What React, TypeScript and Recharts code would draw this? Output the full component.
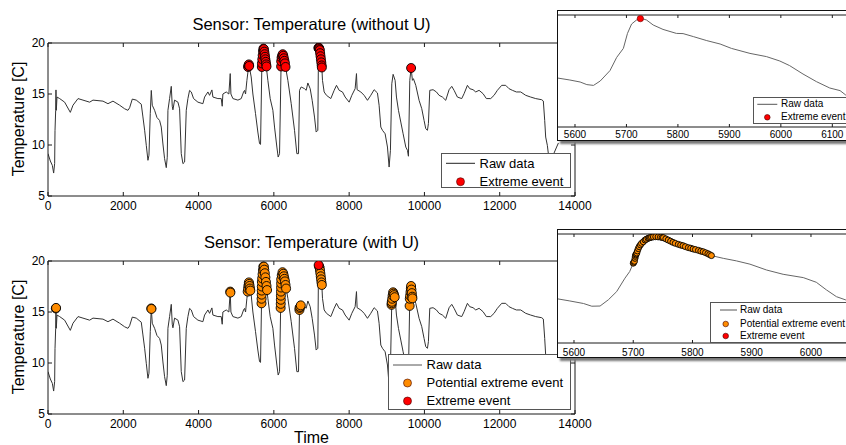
import React from "react";
import { ComposedChart, Line, Scatter, XAxis, YAxis } from "recharts";

const FONT = "'Liberation Sans', Arial, Helvetica, sans-serif";
const INK = "#1a1a1a";
const RED = "#ff0000";
const ORANGE = "#ff8c00";

const X_TICKS = [0, 2000, 4000, 6000, 8000, 10000, 12000, 14000];
const Y_TICKS = [5, 10, 15, 20];
const ZOOM_A_TICKS = [5600, 5700, 5800, 5900, 6000, 6100];
const ZOOM_B_TICKS = [5600, 5700, 5800, 5900, 6000];

// raw sensor trace: [time, temperature]
const RAW = [
  [0, 9.15], [62, 8.43], [115, 8.0], [150, 7.25], [177, 8.2], [186, 11.4], [204, 13.4], [212, 15.4],
  [221, 13.4], [239, 14.7], [310, 14.55], [442, 14.2], [593, 13.2], [664, 13.9], [797, 14.55],
  [929, 14.4], [1106, 14.2], [1195, 14.4], [1460, 14.3], [1593, 14.05], [1726, 14.3], [1903, 13.9],
  [2036, 13.55], [2124, 13.4], [2168, 13.65], [2239, 14.5], [2345, 14.4], [2478, 14.0], [2522, 12.75],
  [2567, 11.45], [2611, 9.97], [2655, 8.5], [2682, 9.0], [2717, 13.1], [2744, 15.35], [2770, 13.9],
  [2832, 13.4], [2894, 12.7], [2965, 12.4], [3009, 11.76], [3053, 10.1], [3097, 8.66], [3142, 7.78],
  [3168, 8.8], [3186, 13.4], [3230, 14.55], [3275, 15.75], [3301, 13.8], [3319, 13.45], [3363, 14.4],
  [3452, 14.2], [3496, 13.55], [3540, 9.15], [3585, 8.17], [3629, 8.33], [3673, 13.4], [3717, 14.55],
  [3761, 15.35], [3806, 15.2], [3867, 14.55], [3983, 14.2], [4115, 14.05], [4160, 14.7], [4248, 15.2],
  [4292, 14.87], [4354, 15.4], [4381, 14.7], [4513, 14.55], [4602, 14.55], [4628, 13.8], [4646, 15.0],
  [4735, 15.2], [4805, 15.0], [4841, 17.0], [4859, 15.0], [4912, 14.55], [5045, 14.4], [5133, 14.55],
  [5195, 15.2], [5221, 15.35], [5248, 15.0], [5283, 16.3], [5336, 17.9], [5398, 16.67], [5443, 15.0],
  [5513, 13.07], [5575, 11.27], [5620, 10.13], [5646, 10.06], [5682, 17.97], [5726, 19.6], [5779, 18.3],
  [5841, 16.34], [5903, 14.54], [5974, 13.4], [6018, 11.76], [6080, 9.8], [6115, 8.82], [6151, 9.15],
  [6195, 18.46], [6239, 18.95], [6310, 17.65], [6372, 16.34], [6461, 14.05], [6549, 11.44], [6611, 9.15],
  [6655, 9.15], [6682, 15.36], [6726, 15.69], [6815, 15.52], [6859, 15.36], [6903, 16.08], [6965, 15.52],
  [7018, 14.38], [7080, 12.74], [7124, 11.27], [7168, 11.44], [7186, 19.67], [7221, 19.3], [7274, 17.65],
  [7292, 16.34], [7336, 15.2], [7398, 14.87], [7513, 14.55], [7602, 15.36], [7664, 15.85], [7735, 15.36],
  [7823, 15.2], [7894, 14.7], [8000, 14.2], [8071, 14.87], [8159, 15.52], [8195, 17.0], [8212, 15.42],
  [8310, 15.2], [8398, 14.87], [8487, 14.38], [8575, 14.87], [8664, 15.42], [8752, 15.1], [8796, 13.9],
  [8841, 11.76], [8885, 11.44], [8956, 11.1], [9018, 9.8], [9062, 7.84], [9097, 9.48], [9133, 16.0],
  [9168, 16.93], [9221, 16.34], [9257, 14.7], [9310, 13.4], [9372, 12.25], [9434, 11.1], [9505, 9.8],
  [9549, 9.48], [9575, 8.9], [9611, 16.34], [9646, 17.55], [9681, 16.34], [9708, 16.5], [9770, 15.85],
  [9858, 14.38], [9929, 13.56], [9991, 12.4], [10035, 11.6], [10080, 11.44], [10106, 12.1], [10142, 15.36],
  [10230, 15.42], [10319, 15.2], [10389, 14.87], [10478, 14.7], [10566, 14.38], [10655, 15.42],
  [10726, 15.75], [10788, 15.36], [10876, 14.7], [10991, 14.55], [11053, 15.03], [11142, 15.85],
  [11204, 15.52], [11292, 15.42], [11363, 15.2], [11452, 15.36], [11558, 15.03], [11646, 14.55],
  [11761, 14.55], [11850, 14.87], [11938, 15.36], [12053, 15.85], [12159, 15.85], [12248, 15.52],
  [12336, 15.36], [12442, 15.2], [12558, 15.2], [12690, 14.87], [12823, 14.7], [12956, 14.55],
  [13115, 14.44], [13159, 14.31], [13195, 12.42], [13221, 10.78], [13265, 9.97], [13292, 9.15],
  [13380, 9.1], [13430, 9.1], [13512, 9.8], [13560, 10.2],
];

// top panel: extreme events without uncertainty
const EXTREME_NO_U = [
  [5315, 17.65], [5325, 17.8], [5336, 17.9], [5345, 17.75],
  [5681, 17.65], [5684, 18.0], [5693, 18.4], [5703, 18.8], [5712, 19.2], [5722, 19.45], [5735, 19.4],
  [5745, 19.15], [5755, 18.9], [5765, 18.65], [5775, 18.4], [5785, 18.15], [5795, 17.9], [5805, 17.7],
  [6193, 17.7], [6195, 18.2], [6205, 18.55], [6220, 18.75], [6235, 18.9], [6250, 18.75], [6265, 18.5],
  [6280, 18.25], [6295, 18.0], [6310, 17.65],
  [7185, 19.5], [7190, 19.55], [7200, 19.5], [7210, 19.4], [7220, 19.3], [7230, 19.0], [7240, 18.7],
  [7250, 18.4], [7260, 18.1], [7270, 17.8], [7275, 17.6],
  [9646, 17.55],
];

// bottom panel: potential and confirmed extreme events with uncertainty
const POTENTIAL_U = [
  [208, 15.35], [214, 15.4],
  [2744, 15.35], [2748, 15.3],
  [4841, 17.0], [4845, 16.9],
  [5305, 17.0], [5315, 17.3], [5325, 17.6], [5336, 17.9], [5345, 17.75], [5355, 17.55], [5365, 17.3], [5375, 17.1],
  [5672, 15.85], [5674, 16.3], [5676, 16.7], [5678, 17.1], [5680, 17.5], [5682, 17.95], [5690, 18.3],
  [5700, 18.7], [5710, 19.1], [5720, 19.45], [5735, 19.45], [5745, 19.15], [5760, 18.8], [5775, 18.4],
  [5790, 17.95], [5805, 17.55], [5820, 17.15],
  [6180, 15.4], [6183, 15.8], [6185, 16.2], [6187, 16.6], [6189, 17.0], [6191, 17.4], [6193, 17.8],
  [6195, 18.2], [6210, 18.6], [6230, 18.9], [6250, 18.75], [6265, 18.5], [6280, 18.25], [6295, 18.0],
  [6310, 17.65], [6325, 17.3],
  [6680, 15.2], [6682, 15.4], [6700, 15.5], [6715, 15.65],
  [7205, 19.45], [7215, 19.35], [7225, 19.1], [7235, 18.8], [7245, 18.5], [7255, 18.2], [7265, 17.9], [7274, 17.65],
  [9127, 15.7], [9130, 15.85], [9133, 16.0], [9145, 16.3], [9155, 16.6], [9168, 16.93], [9180, 16.8],
  [9195, 16.65], [9210, 16.45],
  [9607, 15.6], [9611, 16.3], [9620, 16.6], [9630, 16.95], [9640, 17.3], [9646, 17.55], [9655, 17.2],
  [9665, 16.85], [9675, 16.5], [9681, 16.34],
];
const EXTREME_U = [[7190, 19.6]];

// zoomed views around the 5700 event
const ZOOM_A_RAW = [
  [5566, 16.45], [5590, 16.35], [5610, 16.25], [5623, 16.12], [5636, 16.08], [5649, 16.3], [5668, 16.82],
  [5681, 17.48], [5694, 17.93], [5702, 18.68], [5710, 19.15], [5721, 19.38], [5729, 19.43], [5739, 19.35],
  [5752, 19.1], [5771, 18.88], [5797, 18.68], [5810, 18.67], [5830, 18.52], [5856, 18.32], [5882, 18.15],
  [5904, 17.93], [5940, 17.68], [5972, 17.52], [5998, 17.3], [6017, 17.07], [6043, 16.65], [6069, 16.27],
  [6095, 15.95], [6115, 15.82], [6126, 15.6], [6150, 15.4],
];
const ZOOM_A_EXTREME = [[5727, 19.42]];

const ZOOM_B_RAW = [
  [5572, 16.27], [5593, 16.16], [5616, 16.03], [5630, 15.89], [5644, 15.9], [5658, 16.22], [5672, 16.64],
  [5686, 17.33], [5694, 17.67], [5700, 18.1], [5704, 18.52], [5710, 18.95], [5720, 19.29], [5734, 19.45],
  [5742, 19.45], [5759, 19.29], [5776, 19.07], [5793, 18.9], [5810, 18.76], [5826, 18.59], [5832, 18.49],
  [5852, 18.35], [5874, 18.22], [5897, 18.05], [5925, 17.75], [5953, 17.53], [5987, 17.36], [6009, 17.12],
  [6026, 16.73], [6043, 16.38], [6058, 16.22], [6080, 16.1],
];
const ZOOM_B_POTENTIAL = [
  [5700, 18.1], [5701, 18.15], [5702, 18.2], [5703, 18.35], [5703.5, 18.45], [5704, 18.52], [5705, 18.57],
  [5706, 18.62], [5707, 18.73], [5708.5, 18.85], [5710, 18.95], [5712, 19.04], [5714, 19.12], [5717, 19.2],
  [5720, 19.29], [5722, 19.33], [5725, 19.38], [5727, 19.4], [5729, 19.42], [5731, 19.44], [5734, 19.45],
  [5738, 19.46], [5742, 19.45], [5746, 19.44], [5749, 19.42], [5751, 19.41], [5755, 19.35], [5759, 19.29],
  [5763, 19.23], [5767, 19.17], [5771, 19.12], [5776, 19.07], [5780, 19.03], [5784, 19.0], [5788, 18.95],
  [5793, 18.9], [5797, 18.87], [5801, 18.83], [5805, 18.8], [5810, 18.76], [5814, 18.72], [5818, 18.69],
  [5822, 18.64], [5826, 18.59], [5829, 18.54], [5832, 18.49],
];

const pts = (a: number[][]) => a.map(([t, v]) => ({ t, v }));

const marker = (fill: string, r: number, stroke: string, sw = 0.9) => (p: any) =>
  <circle cx={p.cx} cy={p.cy} r={r} fill={fill} stroke={stroke} strokeWidth={sw} />;

type Row = { label: string; kind: "line" | "dot"; color: string; y: number };

function LegendBox({ left, top, width, height, rows, fontSize, lineFrom, lineTo, dotX, dotR, textX }: any) {
  return (
    <div style={{ position: "absolute", left, top, width, height, boxSizing: "border-box", border: "1px solid #555", background: "#fff" }}>
      <svg width={width} height={height} style={{ position: "absolute", left: -1, top: -1 }}>
        {rows.map((r: Row) =>
          r.kind === "line" ? (
            <line key={r.label} x1={lineFrom} x2={lineTo} y1={r.y} y2={r.y} stroke={r.color} strokeWidth={1} />
          ) : (
            <circle key={r.label} cx={dotX} cy={r.y} r={dotR} fill={r.color} stroke="#400" strokeWidth={0.6} />
          )
        )}
      </svg>
      {rows.map((r: Row) => (
        <div key={r.label} style={{ position: "absolute", left: textX - 1, top: r.y - 1 - fontSize * 0.6, fontSize, lineHeight: `${fontSize * 1.2}px`, whiteSpace: "nowrap" }}>
          {r.label}
        </div>
      ))}
    </div>
  );
}

function Panel({ top, title, showTime, extreme, potential, rows, legend }: any) {
  const tickText = { fill: "#000", fontSize: 12, fontFamily: FONT };
  return (
    <>
      <div style={{ position: "absolute", left: 0, top: top + 15, width: 623, textAlign: "center", fontSize: 16.5, lineHeight: "19px" }}>
        {title}
      </div>
      <div style={{ position: "absolute", left: -51, top: top + 110, width: 140, height: 18, lineHeight: "18px", textAlign: "center", fontSize: 16, transform: "rotate(-90deg)" }}>
        Temperature [C]
      </div>
      <div style={{ position: "absolute", left: 0, top }}>
        <ComposedChart width={600} height={215} margin={{ top: 42, right: 24, bottom: 0, left: 20 }}>
          <XAxis xAxisId="b" dataKey="t" type="number" domain={[0, 14000]} ticks={X_TICKS} interval={0} allowDataOverflow
            height={19} tickSize={-4} tickMargin={9} stroke={INK} tick={tickText} />
          <XAxis xAxisId="top" orientation="top" dataKey="t" type="number" domain={[0, 14000]} ticks={X_TICKS} interval={0}
            allowDataOverflow height={1} tickSize={-4} tickFormatter={() => ""} stroke={INK} />
          <YAxis yAxisId="l" dataKey="v" type="number" domain={[5, 20]} ticks={Y_TICKS} interval={0} allowDataOverflow
            width={28} tickSize={-4} tickMargin={7} stroke={INK} tick={tickText} />
          <YAxis yAxisId="r" orientation="right" dataKey="v" type="number" domain={[5, 20]} ticks={Y_TICKS} interval={0}
            allowDataOverflow width={1} tickSize={-4} tickFormatter={() => ""} stroke={INK} />
          <Line xAxisId="b" yAxisId="l" data={pts(RAW)} dataKey="v" type="linear" stroke="#333" strokeWidth={1}
            dot={false} activeDot={false} isAnimationActive={false} />
          {potential && (
            <Scatter xAxisId="b" yAxisId="l" data={pts(potential)} dataKey="v" shape={marker(ORANGE, 4.5, "#000")} isAnimationActive={false} />
          )}
          <Scatter xAxisId="b" yAxisId="l" data={pts(extreme)} dataKey="v" shape={marker(RED, 4.5, "#000")} isAnimationActive={false} />
        </ComposedChart>
      </div>
      {showTime && (
        <div style={{ position: "absolute", left: 0, top: top + 211, width: 623, textAlign: "center", fontSize: 16, lineHeight: "18px" }}>
          Time
        </div>
      )}
      <LegendBox {...legend} rows={rows} fontSize={13} lineFrom={5} lineTo={34} dotX={19.5} dotR={4} textX={38.5} />
    </>
  );
}

function Inset({ top, height, xHeight, domain, ticks, raw, potential, extreme, tickMargin, legend, rows }: any) {
  const tickText = { fill: "#000", fontSize: 10, fontFamily: FONT };
  return (
    <div style={{ position: "absolute", left: 557, top, width: 300, height, boxSizing: "border-box", border: "1px solid #111", background: "#fff", boxShadow: "3px 3px 2px #777" }}>
      <ComposedChart width={298} height={height - 2} margin={{ top: 3, right: 0, bottom: 0, left: 0 }}>
        <XAxis xAxisId="b" dataKey="t" type="number" domain={domain} ticks={ticks} interval={0} allowDataOverflow
          height={xHeight} tickSize={-3} tickMargin={tickMargin} stroke={INK} tick={tickText} />
        <XAxis xAxisId="top" orientation="top" dataKey="t" type="number" domain={domain} ticks={ticks} interval={0}
          allowDataOverflow height={1} tickSize={-3} tickFormatter={() => ""} stroke={INK} />
        <YAxis yAxisId="l" hide dataKey="v" type="number" domain={[14, 19.6]} allowDataOverflow />
        <Line xAxisId="b" yAxisId="l" data={pts(raw)} dataKey="v" type="linear" stroke="#666" strokeWidth={1}
          dot={false} activeDot={false} isAnimationActive={false} />
        {potential && (
          <Scatter xAxisId="b" yAxisId="l" data={pts(potential)} dataKey="v" shape={marker(ORANGE, 3, "#000", 0.9)} isAnimationActive={false} />
        )}
        {extreme && (
          <Scatter xAxisId="b" yAxisId="l" data={pts(extreme)} dataKey="v" shape={marker(RED, 3.2, "#600", 0.6)} isAnimationActive={false} />
        )}
      </ComposedChart>
      <LegendBox {...legend} rows={rows} fontSize={10} dotR={2.8} />
    </div>
  );
}

export default function App() {
  return (
    <div style={{ position: "absolute", left: 0, top: 0, width: 846, height: 445, overflow: "hidden", background: "#fff", fontFamily: FONT, color: "#000" }}>
      <Panel
        top={0}
        title="Sensor: Temperature (without U)"
        extreme={EXTREME_NO_U}
        legend={{ left: 441, top: 153, width: 130, height: 35 }}
        rows={[
          { label: "Raw data", kind: "line", color: "#222", y: 10.3 },
          { label: "Extreme event", kind: "dot", color: RED, y: 28.7 },
        ]}
      />
      <Panel
        top={218}
        title="Sensor: Temperature (with U)"
        showTime
        extreme={EXTREME_U}
        potential={POTENTIAL_U}
        legend={{ left: 388, top: 354, width: 183, height: 56 }}
        rows={[
          { label: "Raw data", kind: "line", color: "#555", y: 11 },
          { label: "Potential extreme event", kind: "dot", color: ORANGE, y: 29 },
          { label: "Extreme event", kind: "dot", color: RED, y: 47 },
        ]}
      />
      <Inset
        top={10}
        height={131}
        xHeight={13}
        tickMargin={7}
        domain={[5567, 6146]}
        ticks={ZOOM_A_TICKS}
        raw={ZOOM_A_RAW}
        extreme={ZOOM_A_EXTREME}
        legend={{ left: 194.7, top: 85.7, width: 120, height: 27.6, lineFrom: 4.3, lineTo: 24.3, dotX: 14.3, textX: 28.3 }}
        rows={[
          { label: "Raw data", kind: "line", color: "#555", y: 7.3 },
          { label: "Extreme event", kind: "dot", color: RED, y: 20.3 },
        ]}
      />
      <Inset
        top={229}
        height={129}
        xHeight={14}
        tickMargin={9}
        domain={[5573, 6076]}
        ticks={ZOOM_B_TICKS}
        raw={ZOOM_B_RAW}
        potential={ZOOM_B_POTENTIAL}
        legend={{ left: 152, top: 72, width: 160, height: 41, lineFrom: 10, lineTo: 27, dotX: 15.7, textX: 30 }}
        rows={[
          { label: "Raw data", kind: "line", color: "#555", y: 8 },
          { label: "Potential extreme event", kind: "dot", color: ORANGE, y: 22 },
          { label: "Extreme event", kind: "dot", color: RED, y: 34 },
        ]}
      />
    </div>
  );
}
